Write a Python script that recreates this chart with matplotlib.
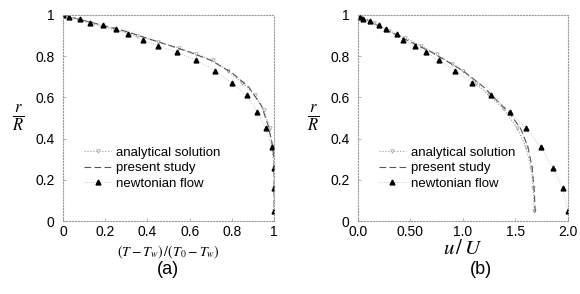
import matplotlib
matplotlib.use("Agg")
import matplotlib.pyplot as plt

plt.rcParams['font.family'] = ['Liberation Sans', 'DejaVu Sans']
plt.rcParams['mathtext.fontset'] = 'stix'

# (a) temperature profile
a_analytical_x = [0.0, 0.02, 0.13, 0.24, 0.35, 0.45, 0.55, 0.63, 0.71, 0.78, 0.85, 0.91, 0.95, 0.98, 0.99, 1.0, 1.0, 1.0]
a_analytical_y = [1.0, 0.99, 0.96, 0.93, 0.90, 0.87, 0.84, 0.81, 0.78, 0.73, 0.67, 0.61, 0.54, 0.45, 0.36, 0.26, 0.16, 0.05]
a_present_x = [0.0, 0.15, 0.3, 0.45, 0.6, 0.7, 0.8, 0.88, 0.94, 0.97, 0.99, 1.0, 1.0]
a_present_y = [1.0, 0.96, 0.92, 0.87, 0.82, 0.78, 0.72, 0.65, 0.56, 0.47, 0.38, 0.30, 0.03]
a_newton_x = [0.0, 0.03, 0.08, 0.13, 0.19, 0.25, 0.31, 0.38, 0.45, 0.54, 0.63, 0.72, 0.80, 0.87, 0.92, 0.96, 0.99, 1.0, 1.0, 1.0]
a_newton_y = [1.0, 0.99, 0.98, 0.96, 0.95, 0.93, 0.91, 0.88, 0.85, 0.82, 0.78, 0.73, 0.67, 0.61, 0.53, 0.45, 0.36, 0.26, 0.16, 0.05]

# (b) velocity profile
b_analytical_x = [0.02, 0.15, 0.30, 0.45, 0.60, 0.75, 0.90, 1.00, 1.13, 1.25, 1.38, 1.52, 1.60, 1.65, 1.67, 1.68]
b_analytical_y = [0.99, 0.96, 0.92, 0.89, 0.85, 0.81, 0.76, 0.73, 0.67, 0.61, 0.55, 0.45, 0.36, 0.26, 0.16, 0.05]
b_present_x = [0.0, 0.3, 0.7, 1.0, 1.2, 1.45, 1.55, 1.62, 1.66, 1.68, 1.69]
b_present_y = [1.0, 0.92, 0.82, 0.73, 0.65, 0.52, 0.45, 0.36, 0.26, 0.15, 0.04]
b_newton_x = [0.02, 0.05, 0.12, 0.20, 0.27, 0.37, 0.43, 0.54, 0.65, 0.77, 0.93, 1.09, 1.27, 1.45, 1.60, 1.74, 1.86, 1.95, 2.0]
b_newton_y = [0.99, 0.98, 0.97, 0.95, 0.93, 0.91, 0.88, 0.85, 0.82, 0.78, 0.73, 0.67, 0.61, 0.53, 0.45, 0.36, 0.26, 0.16, 0.05]

a_xticks = [0, 0.2, 0.4, 0.6, 0.8, 1]
a_xlabels = ['0', '0.2', '0.4', '0.6', '0.8', '1']
b_xticks = [0, 0.5, 1.0, 1.5, 2.0]
b_xlabels = ['0.0', '0.50', '1.0', '1.5', '2.0']
yticks = [0, 0.2, 0.4, 0.6, 0.8, 1]
ylabels = ['0', '0.2', '0.4', '0.6', '0.8', '1']

fig = plt.figure(figsize=(5.8, 2.94), dpi=100)
ax_a = fig.add_axes([0.1086, 0.248, 0.364, 0.701])
ax_b = fig.add_axes([0.617, 0.248, 0.362, 0.701])


def draw(ax, ax_x, ay, px, py, nx, ny, xmax, xticks, xlabels):
    ax.plot(ax_x, ay, ':', color='#999999', lw=0.8, marker='v', ms=2.5,
            mfc='white', mec='#999999', mew=0.5, label='analytical solution')
    ax.plot(px, py, '--', color='#555555', lw=0.8, dashes=(6, 3), label='present study')
    ax.plot(nx, ny, ':', color='#bbbbbb', lw=0.6, marker='^', ms=3.5,
            mfc='black', mec='black', label='newtonian flow')
    ax.set_xlim(0, xmax)
    ax.set_ylim(0, 1)
    ax.set_xticks(xticks)
    ax.set_xticklabels(xlabels)
    ax.set_yticks(yticks)
    ax.set_yticklabels(ylabels)
    ax.tick_params(direction='in', length=2, width=0.5, labelsize=10, color='#999999')
    ax.tick_params(axis='x', pad=3)
    ax.tick_params(axis='y', pad=6)
    for s in ax.spines.values():
        s.set_linestyle(':')
        s.set_color('#999999')
        s.set_linewidth(0.8)
    ax.set_ylabel(r'$\frac{r}{R}$', rotation=0, fontsize=17, labelpad=12, va='center')
    ax.legend(loc='lower left', bbox_to_anchor=(0.07, 0.12), frameon=False,
              fontsize=9.5, handlelength=2.0, handletextpad=0.4,
              labelspacing=0.25, borderpad=0)


draw(ax_a, a_analytical_x, a_analytical_y, a_present_x, a_present_y,
     a_newton_x, a_newton_y, 1, a_xticks, a_xlabels)
draw(ax_b, b_analytical_x, b_analytical_y, b_present_x, b_present_y,
     b_newton_x, b_newton_y, 2, b_xticks, b_xlabels)

ax_a.set_xlabel(r'$(T-T_w)\,/(T_0-T_w)$', fontsize=10, labelpad=3)
ax_b.set_xlabel(r'$u\,/\,U$', fontsize=15, labelpad=0)

fig.text(0.29, 0.085, '(a)', ha='center', va='center', fontsize=13)
fig.text(0.83, 0.085, '(b)', ha='center', va='center', fontsize=13)

fig.savefig('out.png', dpi=100)
